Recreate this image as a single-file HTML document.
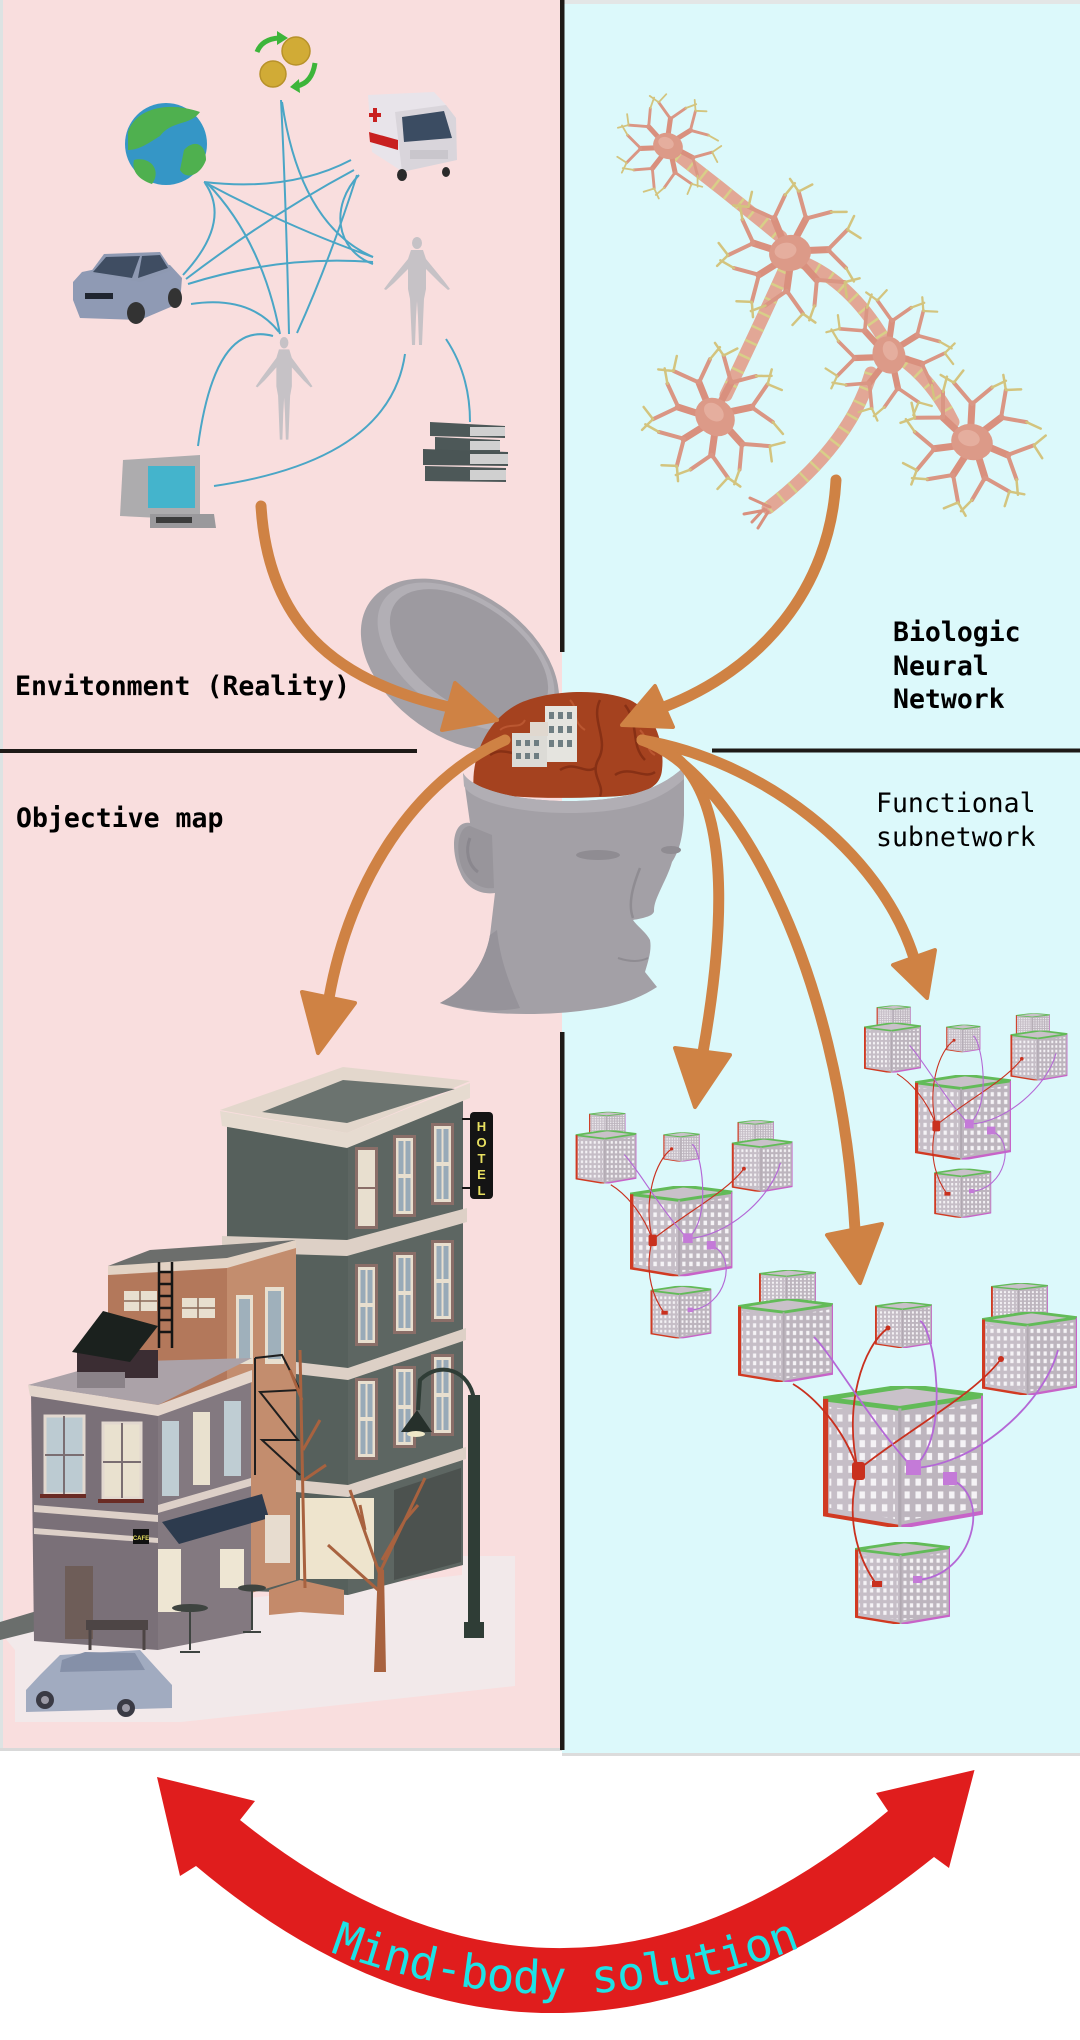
<!DOCTYPE html>
<html><head><meta charset="utf-8">
<style>
html,body{margin:0;padding:0;background:#fff;}
svg{display:block;}
.lbl{font-family:"DejaVu Sans Mono","Liberation Mono",monospace;font-size:26.5px;fill:#000;}
</style></head><body>
<svg width="1080" height="2040" viewBox="0 0 1080 2040" xmlns="http://www.w3.org/2000/svg">
<defs>
  <pattern id="grid" width="7" height="8" patternUnits="userSpaceOnUse">
    <rect x="1.8" y="1.8" width="3.4" height="4.4" fill="#f5f3f6"/>
  </pattern>
  <symbol id="cube" viewBox="0 0 100 88" preserveAspectRatio="none">
    <polygon points="0,8 48,14 48,88 0,80" fill="#c6bec7"/>
    <polygon points="48,14 100,6 100,79 48,88" fill="#bdb5be"/>
    <polygon points="4,13 45,18 45,83 4,76" fill="url(#grid)"/>
    <polygon points="51,18 97,11 97,76 51,84" fill="url(#grid)"/>
    <polygon points="0,8 52,0 100,6 48,14" fill="#c9c1c9" stroke="#62bb58" stroke-width="3"/>
    <line x1="1.5" y1="8" x2="1.5" y2="80" stroke="#d13a22" stroke-width="3.5"/>
    <polyline points="0,80 48,88" stroke="#d13a22" stroke-width="2.5" fill="none"/>
    <polyline points="48,88 100,79 100,6" stroke="#c764c8" stroke-width="2.5" fill="none"/>
    <line x1="48" y1="14" x2="48" y2="88" stroke="#b0a8b1" stroke-width="2"/>
  </symbol>
  <g id="cluster">
    <use href="#cube" x="-64" y="-116" width="57" height="40"/>
    <use href="#cube" x="168" y="-103" width="57" height="40"/>
    <use href="#cube" x="-85" y="-87" width="95" height="83"/>
    <use href="#cube" x="52" y="-84" width="57" height="46"/>
    <use href="#cube" x="159" y="-74" width="95" height="83"/>
    <use href="#cube" x="0" y="0" width="160" height="141"/>
    <use href="#cube" x="32" y="156" width="95" height="82"/>
    <g fill="none" stroke-width="1.8">
      <path d="M35,84 C20,40 -10,10 -30,-2" stroke="#c9301e"/>
      <path d="M35,84 C20,20 40,-40 65,-58" stroke="#c9301e"/>
      <path d="M35,84 C90,40 150,10 178,-27" stroke="#c9301e"/>
      <path d="M35,84 C20,140 40,180 54,199" stroke="#c9301e"/>
      <path d="M90,82 C50,40 10,-30 -9,-49" stroke="#b468d6"/>
      <path d="M90,82 C130,50 110,-60 97,-65" stroke="#b468d6"/>
      <path d="M90,82 C150,80 220,20 235,-36" stroke="#b468d6"/>
      <path d="M127,93 C170,110 150,190 94,194" stroke="#b468d6"/>
    </g>
    <rect x="29" y="76" width="13" height="18" rx="3" fill="#c9301e"/>
    <rect x="83" y="74" width="15" height="15" fill="#c47ad8"/>
    <rect x="120" y="86" width="14" height="13" fill="#c47ad8"/>
    <rect x="49" y="195" width="10" height="6" fill="#c9301e"/>
    <rect x="90" y="190" width="9" height="7" fill="#c47ad8"/>
    <circle cx="178" cy="-27" r="3" fill="#c9301e"/>
    <circle cx="65" cy="-58" r="2.5" fill="#c9301e"/>
  </g>
  <g id="neuron" fill="none" stroke-linecap="round" stroke-linejoin="round">
    <g stroke="#d9907e" stroke-width="7">
      <path d="M14,0 L37.9,3.3 M9,10.7 L21.8,31.1 M-2.4,13.8 L-9.8,36.7 M-12.1,7 L-34.4,16.1 M-13.2,-4.8 L-34.4,-16.1 M-4.8,-13.2 L-9.8,-36.7 M7,-12.1 L21.8,-31.1"/>
    </g>
    <g stroke="#da9684" stroke-width="4">
      <path d="M37.9,3.3 L60.6,-12.9 M37.9,3.3 L52.6,24.5 M21.8,31.1 L48.9,38.2 M21.8,31.1 L15,56 M-9.8,36.7 L2.2,62 M-9.8,36.7 L-33.3,47.5 M-34.4,16.1 L-46.1,41.5 M-34.4,16.1 L-57.8,5.1 M-34.4,-16.1 L-61.4,-8.6 M-34.4,-16.1 L-41,-41 M-9.8,-36.7 L-32.9,-52.6 M-9.8,-36.7 L5.1,-57.8 M21.8,-31.1 L19.2,-59 M21.8,-31.1 L47.5,-33.3"/>
    </g>
    <g stroke="#d3c47e" stroke-width="2.5">
      <path d="M60.6,-12.9 L69.5,-25.3 M60.6,-12.9 L72,-2.5 M52.6,24.5 L58,39.1 M48.9,38.2 L64.1,37 M48.9,38.2 L48.2,53.5 M15,56 L7.3,69.6 M2.2,62 L12.9,72.9 M2.2,62 L-10,71.3 M-33.3,47.5 L-48.6,50.4 M-46.1,41.5 L-47.6,56.7 M-46.1,41.5 L-61.1,38.2 M-57.8,5.1 L-69.8,-4.9 M-61.4,-8.6 L-74,0 M-61.4,-8.6 L-68.5,-22.2 M-41,-41 L-41.1,-56.6 M-32.9,-52.6 L-47.6,-56.7 M-32.9,-52.6 L-26.9,-66.8 M5.1,-57.8 L16.9,-67.9 M19.2,-59 L12.9,-72.9 M19.2,-59 L33.8,-63.6 M47.5,-33.3 L62.9,-30.7"/>
    </g>
    <ellipse rx="21" ry="18" fill="#dc9a88"/>
    <ellipse cx="-4" cy="-3" rx="11" ry="8" fill="#e5ae9e"/>
  </g>
  <g id="human" fill="#c6c2c6">
    <ellipse cx="35" cy="6" rx="5" ry="6"/>
    <path d="M29,13 L41,13 L44,22 L62,44 L68,52 L66,53 L58,46 L44,32 L44,52 L42,62 L41,85 L40,108 L37,108 L36,80 L35,64 L34,80 L33,108 L30,108 L29,85 L28,62 L26,52 L26,32 L12,46 L4,53 L2,52 L8,44 L26,22 Z"/>
  </g>
  <path id="tp" d="M200,1890 Q560,2100 930,1885" fill="none"/>
</defs>

<!-- panels -->
<rect x="0" y="0" width="562" height="1750" fill="#f9dede"/>
<rect x="562" y="0" width="518" height="1755" fill="#dcf9fb"/>
<rect x="562" y="0" width="518" height="4" fill="#e3e6e6"/>
<rect x="0" y="0" width="3" height="1750" fill="#dde3e3"/>
<rect x="0" y="1748" width="562" height="3" fill="#d9d9d9"/>
<rect x="562" y="1753" width="518" height="3" fill="#dcdcdc"/>

<!-- black dividers -->
<rect x="560" y="0" width="4.5" height="652" fill="#1e1a17"/>
<rect x="560" y="1032" width="4.5" height="718" fill="#1e1a17"/>
<rect x="0" y="749" width="417" height="4" fill="#1e1a17"/>
<rect x="712" y="748.5" width="368" height="4" fill="#1e1a17"/>

<!-- blue connector lines -->
<g fill="none" stroke="#4aa6c6" stroke-width="2">
  <path d="M281,100 Q286,200 289,334"/>
  <path d="M282,102 Q300,225 373,257"/>
  <path d="M204,182 Q290,228 373,257"/>
  <path d="M205,183 Q232,222 183,275"/>
  <path d="M207,183 Q262,240 280,334"/>
  <path d="M351,160 Q290,192 204,182"/>
  <path d="M354,170 Q270,215 186,279"/>
  <path d="M357,175 Q330,260 297,333"/>
  <path d="M359,175 C330,205 335,250 373,264"/>
  <path d="M188,284 Q280,255 373,262"/>
  <path d="M191,304 Q250,295 279,332"/>
  <path d="M273,336 Q215,320 198,446"/>
  <path d="M405,354 Q390,460 214,486"/>
  <path d="M446,339 Q470,375 470,422"/>
</g>

<!-- coins -->
<circle cx="296" cy="51" r="14" fill="#d1ab36" stroke="#b8922a" stroke-width="1.5"/>
<circle cx="273" cy="74" r="13" fill="#d1ab36" stroke="#b8922a" stroke-width="1.5"/>
<path d="M257,52 Q262,39 279,38" fill="none" stroke="#3db53a" stroke-width="5"/>
<polygon points="277,31 288,38 277,45" fill="#3db53a"/>
<path d="M315,63 Q312,83 297,86" fill="none" stroke="#3db53a" stroke-width="5"/>
<polygon points="299,79 290,87 300,93" fill="#3db53a"/>

<!-- globe -->
<circle cx="166" cy="144" r="41" fill="#3596c6"/>
<path d="M128,132 C135,110 165,100 200,112 C190,126 172,120 160,136 C150,142 140,150 128,150 Z" fill="#4fb04f"/>
<path d="M184,150 C195,138 206,145 206,160 C200,176 186,180 180,170 Z" fill="#4fb04f"/>
<path d="M134,160 C150,156 162,170 152,184 C140,180 131,172 134,160 Z" fill="#4fb04f"/>

<!-- ambulance -->
<polygon points="368,95 434,92 446,105 446,160 400,170 372,152" fill="#e8e4ea"/>
<polygon points="395,112 446,105 456,118 457,160 402,172" fill="#d9d5db"/>
<polygon points="402,117 444,111 452,138 404,142" fill="#3b4c62"/>
<polygon points="369,132 398,140 398,150 370,142" fill="#c82020"/>
<rect x="373" y="108" width="4" height="14" fill="#c82020"/>
<rect x="369" y="113" width="12" height="4" fill="#c82020"/>
<rect x="410" y="150" width="38" height="9" fill="#c9c6cc"/>
<ellipse cx="402" cy="175" rx="5" ry="6" fill="#2b2b2b"/>
<ellipse cx="446" cy="172" rx="4" ry="5" fill="#2b2b2b"/>

<!-- top car -->
<polygon points="73,282 82,272 130,262 170,265 182,278 180,303 140,320 80,318 73,300" fill="#8f9ab4"/>
<polygon points="90,273 104,254 160,252 172,270 140,282" fill="#8e99b2"/>
<polygon points="93,272 106,257 140,256 132,278" fill="#3f4d62"/>
<polygon points="142,256 160,255 168,268 138,278" fill="#3f4d62"/>
<rect x="85" y="293" width="28" height="6" fill="#1f2530"/>
<ellipse cx="136" cy="313" rx="9" ry="11" fill="#333"/>
<ellipse cx="175" cy="298" rx="7" ry="10" fill="#333"/>

<!-- humans -->
<use href="#human" transform="translate(382,237)"/>
<use href="#human" transform="translate(254,337) scale(0.86,0.95)"/>

<!-- books -->
<polygon points="430,422 505,426 505,438 430,436" fill="#4d5858"/>
<polygon points="435,437 500,440 500,452 435,451" fill="#4d5858"/>
<polygon points="423,449 508,452 508,466 423,465" fill="#4a5555"/>
<polygon points="425,466 506,468 506,482 425,481" fill="#4d5858"/>
<rect x="470" y="427" width="35" height="9" fill="#d0d0d0"/>
<rect x="470" y="441" width="30" height="9" fill="#d0d0d0"/>
<rect x="470" y="454" width="38" height="10" fill="#d0d0d0"/>
<rect x="470" y="470" width="36" height="10" fill="#d0d0d0"/>

<!-- computer -->
<polygon points="123,460 200,455 200,520 120,516" fill="#adacae"/>
<rect x="148" y="466" width="47" height="42" fill="#44b4cc"/>
<polygon points="150,514 214,514 216,528 150,528" fill="#9a999c"/>
<rect x="156" y="517" width="36" height="6" fill="#3c3c3c"/>

<!-- neurons: axons -->
<g fill="none" stroke-linecap="round">
  <g stroke="#e2a796" stroke-width="13">
    <path d="M678,155 Q730,195 781,237"/>
    <path d="M802,262 Q850,282 884,339"/>
    <path d="M784,271 Q762,320 726,395"/>
    <path d="M871,373 Q850,445 768,508"/>
    <path d="M906,362 Q935,385 953,422"/>
  </g>
  <g stroke="#d8cf88" stroke-width="13" stroke-dasharray="2.5 13" stroke-linecap="butt">
    <path d="M678,155 Q730,195 781,237"/>
    <path d="M802,262 Q850,282 884,339"/>
    <path d="M784,271 Q762,320 726,395"/>
    <path d="M871,373 Q850,445 768,508"/>
    <path d="M906,362 Q935,385 953,422"/>
  </g>
  <path d="M770,507 L750,498 M766,510 L744,514 M768,512 L758,528 M764,509 L752,522" stroke="#d9907e" stroke-width="3"/>
</g>
<use href="#neuron" transform="translate(668,146) scale(0.72) rotate(20)"/>
<use href="#neuron" transform="translate(790,253) rotate(-10)"/>
<use href="#neuron" transform="translate(715,417) rotate(40)"/>
<use href="#neuron" transform="translate(889,355) scale(0.9) rotate(70)"/>
<use href="#neuron" transform="translate(972,442) rotate(15)"/>

<!-- cube clusters -->
<use href="#cluster" transform="translate(630,1186) scale(0.64)"/>
<use href="#cluster" transform="translate(915,1075) scale(0.6)"/>
<use href="#cluster" transform="translate(823,1386)"/>

<!-- building scene -->
<polygon points="0,1632 15,1650 15,1722 181,1722 515,1686 515,1556 462,1556 462,1575 0,1625" fill="#f2e9ea"/>
<polygon points="0,1622 40,1610 40,1630 0,1640" fill="#6a6e6c"/>
<!-- tower -->
<polygon points="227,1125 348,1137 348,1595 227,1590" fill="#56605c"/>
<polygon points="348,1137 463,1097 463,1565 348,1595" fill="#5d6662"/>
<polygon points="220,1110 343,1067 470,1081 347,1133" fill="#e3d7cc"/>
<polygon points="262,1112 343,1080 455,1089 347,1123" fill="#6b736f"/>
<polygon points="220,1111 347,1133 470,1083 470,1098 347,1148 222,1126" fill="#e6dbd0"/>
<polygon points="222,1236 347,1240 467,1208 467,1222 347,1256 222,1252" fill="#ddd0c6"/>
<polygon points="296,1362 348,1368 466,1328 466,1340 348,1380 296,1374" fill="#ddd0c6"/>
<polygon points="296,1480 348,1485 466,1447 466,1459 348,1497 296,1492" fill="#ddd0c6"/>
<g fill="#8a6e68">
  <rect x="355" y="1147" width="23" height="82"/><rect x="393" y="1135" width="23" height="82"/><rect x="431" y="1123" width="23" height="82"/>
  <rect x="355" y="1264" width="23" height="82"/><rect x="393" y="1252" width="23" height="82"/><rect x="431" y="1240" width="23" height="82"/>
  <rect x="355" y="1378" width="23" height="82"/><rect x="393" y="1366" width="23" height="82"/><rect x="431" y="1354" width="23" height="82"/>
</g>
<g>
  <rect x="358" y="1150" width="17" height="76" fill="#e8dfcf"/><rect x="396" y="1138" width="17" height="76" fill="#e8dfcf"/><rect x="434" y="1126" width="17" height="76" fill="#e8dfcf"/>
  <rect x="358" y="1267" width="17" height="76" fill="#e8dfcf"/><rect x="396" y="1255" width="17" height="76" fill="#e8dfcf"/><rect x="434" y="1243" width="17" height="76" fill="#e8dfcf"/>
  <rect x="358" y="1381" width="17" height="76" fill="#e8dfcf"/><rect x="396" y="1369" width="17" height="76" fill="#e8dfcf"/><rect x="434" y="1357" width="17" height="76" fill="#e8dfcf"/>
</g>
<g fill="#98aab8">
  <rect x="398.5" y="1141" width="5" height="33"/><rect x="405.5" y="1141" width="5" height="33"/><rect x="398.5" y="1178" width="5" height="33"/><rect x="405.5" y="1178" width="5" height="33"/>
  <rect x="436.5" y="1129" width="5" height="33"/><rect x="443.5" y="1129" width="5" height="33"/><rect x="436.5" y="1166" width="5" height="33"/><rect x="443.5" y="1166" width="5" height="33"/>
  <rect x="360.5" y="1270" width="5" height="33"/><rect x="367.5" y="1270" width="5" height="33"/><rect x="360.5" y="1307" width="5" height="33"/><rect x="367.5" y="1307" width="5" height="33"/>
  <rect x="398.5" y="1258" width="5" height="33"/><rect x="405.5" y="1258" width="5" height="33"/><rect x="398.5" y="1295" width="5" height="33"/><rect x="405.5" y="1295" width="5" height="33"/>
  <rect x="436.5" y="1246" width="5" height="33"/><rect x="443.5" y="1246" width="5" height="33"/><rect x="436.5" y="1283" width="5" height="33"/><rect x="443.5" y="1283" width="5" height="33"/>
  <rect x="360.5" y="1384" width="5" height="33"/><rect x="367.5" y="1384" width="5" height="33"/><rect x="360.5" y="1421" width="5" height="33"/><rect x="367.5" y="1421" width="5" height="33"/>
  <rect x="398.5" y="1372" width="5" height="33"/><rect x="405.5" y="1372" width="5" height="33"/><rect x="398.5" y="1409" width="5" height="33"/><rect x="405.5" y="1409" width="5" height="33"/>
  <rect x="436.5" y="1360" width="5" height="33"/><rect x="443.5" y="1360" width="5" height="33"/><rect x="436.5" y="1397" width="5" height="33"/><rect x="443.5" y="1397" width="5" height="33"/>
</g>
<path d="M358,1188 H375" stroke="#8a6e68" stroke-width="2"/>
<rect x="300" y="1498" width="74" height="81" fill="#eee4cd"/>
<polygon points="394,1490 461,1468 461,1562 394,1580" fill="#4c524f"/>
<!-- brick building -->
<polygon points="108,1270 227,1262 227,1600 108,1400" fill="#b3785b"/>
<polygon points="227,1262 296,1245 296,1580 227,1600" fill="#c38d6e"/>
<polygon points="108,1266 150,1250 296,1240 227,1260" fill="#6c6e6c"/>
<polygon points="108,1266 227,1258 296,1240 296,1248 227,1268 108,1275" fill="#e3d3c5"/>
<rect x="124" y="1291" width="33" height="20" fill="#e8dfcf"/>
<rect x="182" y="1298" width="33" height="20" fill="#e8dfcf"/>
<path d="M124,1301 H157 M140,1291 V1311 M182,1308 H215 M198,1298 V1318" stroke="#8b6a58" stroke-width="1.5"/>
<rect x="236" y="1295" width="17" height="69" fill="#e8dfcf"/>
<rect x="265" y="1287" width="19" height="77" fill="#e8dfcf"/>
<rect x="239" y="1299" width="11" height="60" fill="#9fb0bb"/>
<rect x="268" y="1291" width="13" height="68" fill="#9fb0bb"/>
<!-- ladder -->
<path d="M159,1262 V1348 M172,1262 V1348 M159,1272 H172 M159,1284 H172 M159,1296 H172 M159,1308 H172 M159,1320 H172 M159,1332 H172" stroke="#151515" stroke-width="2.5"/>
<!-- front building -->
<polygon points="31,1392 158,1410 158,1650 34,1641" fill="#7a7078"/>
<polygon points="158,1410 251,1378 251,1632 158,1650" fill="#837980"/>
<polygon points="28,1385 110,1362 252,1358 158,1405" fill="#aba2a8"/>
<polygon points="28,1385 158,1405 252,1370 252,1382 158,1416 30,1396" fill="#e4d6cc"/>
<rect x="77" y="1350" width="81" height="28" fill="#3b2d33"/>
<polygon points="72,1352 103,1311 158,1326 130,1362" fill="#1b211e"/>
<rect x="77" y="1372" width="48" height="16" fill="#8a8288"/>
<polygon points="34,1505 158,1515 158,1522 34,1512" fill="#ddd0c8"/>
<polygon points="34,1528 158,1538 158,1543 34,1534" fill="#ddd0c8"/>
<polygon points="158,1505 251,1478 251,1486 158,1513" fill="#ddd0c8"/>
<rect x="45" y="1416" width="39" height="78" fill="#bccbd2" stroke="#e2d8cf" stroke-width="3"/>
<rect x="103" y="1423" width="38" height="75" fill="#e9e1cf" stroke="#e2d8cf" stroke-width="3"/>
<path d="M64,1416 V1494 M45,1455 H84 M122,1423 V1498 M103,1462 H141" stroke="#7a6e72" stroke-width="2"/>
<rect x="40" y="1494" width="46" height="4" fill="#6a2b24"/>
<rect x="98" y="1499" width="46" height="4" fill="#6a2b24"/>
<rect x="162" y="1421" width="17" height="75" fill="#bfcdd3"/>
<rect x="193" y="1412" width="17" height="73" fill="#e9e1cf"/>
<rect x="224" y="1401" width="17" height="75" fill="#bfcdd3"/>
<polygon points="162,1522 262,1494 269,1518 179,1544" fill="#2d3b4e"/>
<rect x="158" y="1549" width="23" height="63" fill="#eee6d3"/>
<rect x="220" y="1549" width="24" height="39" fill="#eee6d3"/>
<rect x="65" y="1566" width="28" height="73" fill="#6e5d58"/>
<rect x="265" y="1515" width="25" height="48" fill="#e7dccf"/>
<rect x="133" y="1529" width="16" height="15" fill="#111"/>
<text x="141" y="1540" font-family="Liberation Sans, sans-serif" font-size="6" font-weight="bold" fill="#e8e060" text-anchor="middle">CAFE</text>
<!-- stairs -->
<polygon points="269,1590 300,1580 344,1590 344,1615 300,1612 269,1615" fill="#c48a6a"/>
<!-- fire escape -->
<path d="M255,1358 L282,1355 L300,1390 L260,1392 L298,1440 L262,1440 L300,1475 M255,1358 V1475" fill="none" stroke="#1e1e1e" stroke-width="2"/>
<!-- trees -->
<path d="M305,1588 L303,1500 L300,1350 M303,1450 L320,1420 M302,1400 L290,1370 M304,1480 L326,1465" fill="none" stroke="#a8623f" stroke-width="3"/>
<polygon points="374,1672 386,1672 384,1570 378,1566" fill="#a8623f"/>
<path d="M380,1575 L350,1490 M380,1572 L425,1478 M378,1590 L328,1545 M382,1560 L405,1520 L418,1505 M365,1530 L360,1505" fill="none" stroke="#a8623f" stroke-width="3"/>
<!-- lamp -->
<rect x="468" y="1395" width="12" height="240" fill="#2f3d36"/>
<rect x="464" y="1622" width="20" height="16" fill="#2f3d36"/>
<path d="M474,1400 C470,1370 440,1360 420,1380 L418,1410" fill="none" stroke="#2f3d36" stroke-width="4"/>
<polygon points="401,1432 417,1410 432,1432" fill="#26302b"/>
<ellipse cx="416" cy="1434" rx="9" ry="3" fill="#efe8c8"/>
<!-- hotel sign -->
<path d="M462,1119 H471 M462,1188 H471" stroke="#141414" stroke-width="2"/>
<rect x="470" y="1112" width="23" height="87" rx="4" fill="#141414"/>
<g font-family="Liberation Sans, sans-serif" font-size="13" font-weight="bold" fill="#e8e060" text-anchor="middle">
  <text x="481.5" y="1131">H</text><text x="481.5" y="1147">O</text><text x="481.5" y="1163">T</text><text x="481.5" y="1179">E</text><text x="481.5" y="1195">L</text>
</g>
<!-- bench & tables -->
<rect x="86" y="1620" width="62" height="10" fill="#4d4545"/>
<path d="M90,1630 V1650 M144,1630 V1650" stroke="#4d4545" stroke-width="3"/>
<ellipse cx="190" cy="1608" rx="18" ry="4" fill="#3e4440"/>
<path d="M190,1608 V1650 M180,1652 H200" stroke="#3e4440" stroke-width="2"/>
<ellipse cx="252" cy="1588" rx="14" ry="3.5" fill="#3e4440"/>
<path d="M252,1588 V1630 M243,1632 H261" stroke="#3e4440" stroke-width="2"/>
<!-- car bottom -->
<polygon points="26,1690 40,1675 60,1655 140,1650 160,1672 172,1685 172,1708 26,1712" fill="#a1abc0"/>
<polygon points="62,1660 85,1652 135,1653 145,1670 60,1672" fill="#8590a8"/>
<circle cx="45" cy="1700" r="9" fill="#3a3a44"/><circle cx="45" cy="1700" r="4" fill="#9c9aa6"/>
<circle cx="126" cy="1708" r="9" fill="#3a3a44"/><circle cx="126" cy="1708" r="4" fill="#9c9aa6"/>

<!-- skull cap shell -->
<ellipse cx="460" cy="665" rx="110" ry="72" transform="rotate(35 460 665)" fill="#a4a1a7"/>
<ellipse cx="466" cy="657" rx="100" ry="58" transform="rotate(35 466 657)" fill="#b2afb5"/>
<ellipse cx="469" cy="655" rx="90" ry="50" transform="rotate(35 469 655)" fill="#9d9aa0"/>

<!-- brain -->
<path d="M474,792 C470,760 485,720 520,703 C550,690 600,688 630,700 C655,712 665,745 662,770 C660,790 640,796 600,797 C560,799 510,798 474,792 Z" fill="#a5421f"/>
<g fill="none" stroke="#7d2b12" stroke-width="2.5" opacity="0.75">
  <path d="M600,700 C590,720 610,740 598,760 C590,775 605,785 600,796"/>
  <path d="M625,705 C640,725 630,745 645,760"/>
  <path d="M490,755 C505,745 515,760 530,750"/>
  <path d="M560,770 C575,760 585,775 595,768"/>
  <path d="M615,775 C630,765 645,780 655,772"/>
</g>
<g fill="none" stroke="#c46039" stroke-width="2" opacity="0.7">
  <path d="M570,700 C580,710 570,720 585,730"/>
  <path d="M640,730 C650,740 645,750 655,755"/>
  <path d="M500,730 C510,722 520,730 525,720"/>
</g>
<rect x="545" y="706" width="32" height="56" fill="#e5e4df"/>
<rect x="512" y="733" width="35" height="34" fill="#dcdbd6"/>
<rect x="530" y="722" width="18" height="14" fill="#e0d8cf"/>
<g fill="#6f7e82">
  <rect x="549" y="712" width="5" height="7"/><rect x="558" y="712" width="5" height="7"/><rect x="567" y="712" width="5" height="7"/>
  <rect x="549" y="726" width="5" height="7"/><rect x="558" y="726" width="5" height="7"/><rect x="567" y="726" width="5" height="7"/>
  <rect x="549" y="740" width="5" height="7"/><rect x="558" y="740" width="5" height="7"/><rect x="567" y="740" width="5" height="7"/>
  <rect x="516" y="740" width="5" height="6"/><rect x="525" y="740" width="5" height="6"/><rect x="534" y="740" width="5" height="6"/>
  <rect x="516" y="753" width="5" height="6"/><rect x="525" y="753" width="5" height="6"/><rect x="534" y="753" width="5" height="6"/>
</g>

<!-- head -->
<path d="M463,773 C472,790 520,801 567,801 C615,801 655,794 684,767 L684,815 C683,835 680,850 672,862 C667,880 654,898 654,910 C655,916 643,918 633,920 C637,926 646,932 650,940 C652,950 648,962 645,972 L657,987 C640,998 620,1006 587,1010 C540,1017 470,1015 440,1003 C465,990 485,965 490,935 L495,893 C480,895 466,888 460,872 C450,850 452,820 470,823 Z" fill="#a3a0a6"/>
<path d="M463,773 C472,790 520,801 567,801 C615,801 655,794 684,767 L684,779 C655,806 615,813 567,813 C520,813 472,802 464,786 Z" fill="#b1aeb4"/>
<path d="M490,935 C485,965 465,990 440,1003 C470,1012 500,1012 520,1008 C510,985 500,960 497,930 Z" fill="#96939a"/>
<path d="M470,826 C458,826 455,850 462,868 C468,882 482,890 494,888 L492,835 Z" fill="#98959b"/>
<path d="M470,838 C465,850 468,865 478,872" fill="none" stroke="#8a878e" stroke-width="3"/>
<ellipse cx="598" cy="855" rx="22" ry="5" fill="#8f8c92"/>
<ellipse cx="671" cy="850" rx="10" ry="4" fill="#8f8c92"/>
<path d="M640,868 C632,888 628,905 633,918" fill="none" stroke="#8f8c92" stroke-width="2.5"/>
<path d="M618,958 C630,962 640,962 648,958" fill="none" stroke="#8f8c92" stroke-width="2"/>

<!-- orange arrows -->
<g fill="none" stroke="#cf8244" stroke-width="11" stroke-linecap="round">
  <path d="M261,506 C268,620 330,680 449,707"/>
  <path d="M836,480 C830,590 760,670 664,707"/>
  <path d="M505,740 C415,780 350,880 329,998"/>
  <path d="M642,740 C760,760 880,850 914,958"/>
  <path d="M642,740 C720,760 735,870 703,1052"/>
  <path d="M642,740 C730,770 840,960 855,1230"/>
</g>
<g fill="#cf8244" stroke="#cf8244" stroke-width="4" stroke-linejoin="round">
  <polygon points="497,720 455,683 442,730"/>
  <polygon points="622,725 655,686 673,727"/>
  <polygon points="318,1053 302,992 355,1003"/>
  <polygon points="927,998 893,965 935,950"/>
  <polygon points="695,1107 675,1048 730,1055"/>
  <polygon points="860,1283 827,1235 882,1224"/>
</g>

<!-- labels -->
<text class="lbl" x="15" y="695" font-weight="bold">Envitonment (Reality)</text>
<text class="lbl" x="893" y="641" font-weight="bold">Biologic</text>
<text class="lbl" x="893" y="675" font-weight="bold">Neural</text>
<text class="lbl" x="893" y="708" font-weight="bold">Network</text>
<text class="lbl" x="16" y="827" font-weight="bold">Objective map</text>
<text class="lbl" x="876" y="812">Functional</text>
<text class="lbl" x="876" y="846">subnetwork</text>

<!-- red double arrow -->
<path d="M157,1777 L180,1876 L196,1866 Q551,2164.5 934,1857 L949,1868 L974.5,1770 L876,1793 L888,1811 Q566,2080.6 240,1820 L255,1801 Z" fill="#e01d1d"/>
<text font-family="DejaVu Sans Mono, Liberation Mono, monospace" font-size="46" fill="#1de2e6" letter-spacing="-1"><textPath href="#tp" startOffset="50%" text-anchor="middle">Mind-body solution</textPath></text>
</svg>
</body></html>
